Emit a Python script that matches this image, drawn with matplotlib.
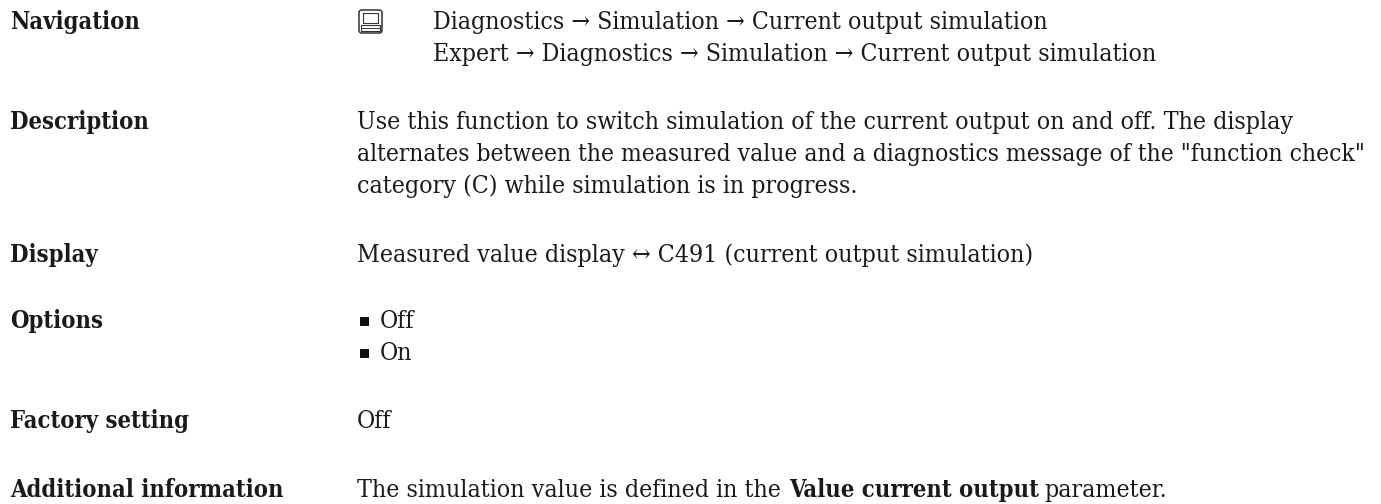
import matplotlib
matplotlib.use("Agg")
import matplotlib.pyplot as plt
from matplotlib.patches import FancyBboxPatch, Rectangle

W, H = 1381, 504
FS = 17.8
FS_BOLD = 17.0
font = ["DejaVu Serif"]
STRETCH = "condensed"
INK = "#1a1a1a"

labels = ["Navigation", "Description", "Display", "Options", "Factory setting", "Additional information"]
label_y = [29, 129, 262, 328, 428, 497]

nav_lines = ["Diagnostics → Simulation → Current output simulation",
             "Expert → Diagnostics → Simulation → Current output simulation"]
desc_lines = ["Use this function to switch simulation of the current output on and off. The display",
              "alternates between the measured value and a diagnostics message of the \"function check\"",
              "category (C) while simulation is in progress."]
display_text = "Measured value display ↔ C491 (current output simulation)"
options = ["Off", "On"]
factory = "Off"

fig = plt.figure(figsize=(W/100, H/100), dpi=100, facecolor="white")
ax = fig.add_axes([0, 0, 1, 1])
ax.set_xlim(0, W); ax.set_ylim(H, 0); ax.axis("off")

def t(x, y, s, bold=False, fs=None):
    size = fs if fs else (FS_BOLD if bold else FS)
    return ax.text(x, y, s, fontsize=size, family=font, stretch=STRETCH,
                   fontweight="bold" if bold else "normal", va="baseline", color=INK)

for s, y in zip(labels, label_y):
    t(10, y, s, bold=True)

t(433, 29, nav_lines[0]); t(433, 61, nav_lines[1])

# menu icon
ax.add_patch(FancyBboxPatch((359, 10), 23, 23, boxstyle="round,pad=0,rounding_size=2.5", fc="white", ec="#333333", lw=1.1))
ax.add_patch(Rectangle((363, 13), 15, 10, fc="white", ec="#333333", lw=0.8))
ax.add_patch(Rectangle((361, 25), 19, 5.5, fc="white", ec="#333333", lw=0.8))
ax.plot([361, 380], [27.7, 27.7], color="#333333", lw=0.7)

t(357, 129, desc_lines[0], fs=17.85)
t(357, 161, desc_lines[1], fs=17.55)
t(357, 193, desc_lines[2])
t(357, 262, display_text)
for s, y in zip(options, [328, 360]):
    ax.add_patch(Rectangle((360, y-11), 9, 9, fc="#111111", ec="none"))
    t(380, y, s)
t(357, 428, factory)
t(357, 497, "The simulation value is defined in the")
t(789, 497, "Value current output", bold=True)
t(1044, 497, "parameter.")
fig.savefig("out.png", dpi=100)
